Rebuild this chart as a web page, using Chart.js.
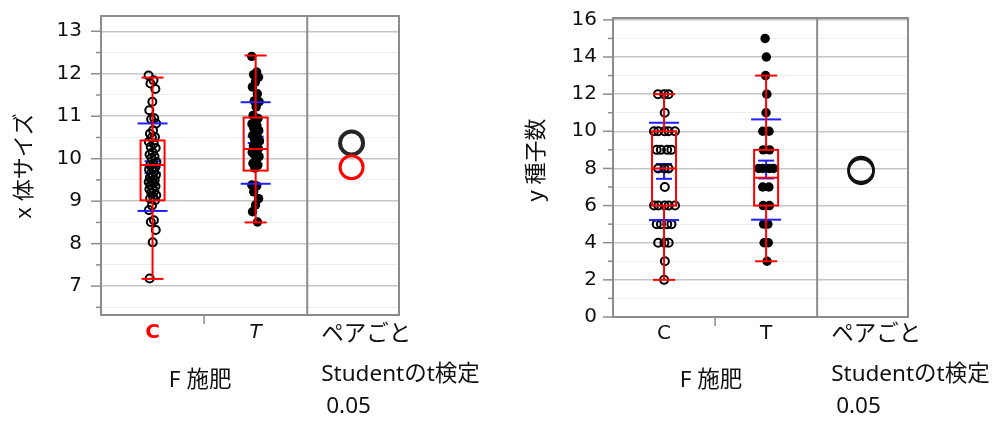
<!DOCTYPE html>
<html><head><meta charset="utf-8">
<script src="https://cdn.jsdelivr.net/npm/chart.js@4.4.1/dist/chart.umd.min.js"></script>
<style>
html,body{margin:0;padding:0;background:#fff;}
#wrap{position:relative;width:1002px;height:421px;overflow:hidden;}
canvas{position:absolute;top:0;}
#c1{left:0;}
#c2{left:500px;}
</style></head><body>
<div id="wrap"><canvas id="c1" width="500" height="421"></canvas><canvas id="c2" width="502" height="421"></canvas></div>
<script>
// ---------- data ----------
const categories = ["C", "T"];
const xAxisTitle = "F 施肥";
const pairLabels = ["ペアごと", "Studentのt検定", "0.05"];

const leftTitle = "x 体サイズ";
const leftYTicks = ["7", "8", "9", "10", "11", "12", "13"];
const leftC = [11.96, 11.85, 11.77, 11.64, 11.34, 11.14, 10.95, 10.93, 10.83, 10.67, 10.59, 10.51, 10.50, 10.40, 10.36, 10.28, 10.25, 10.15, 10.10, 10.05, 10.02, 9.92, 9.88, 9.85, 9.80, 9.78, 9.74, 9.70, 9.65, 9.62, 9.58, 9.55, 9.50, 9.48, 9.45, 9.42, 9.38, 9.35, 9.30, 9.28, 9.24, 9.20, 9.14, 9.10, 9.06, 9.02, 8.90, 8.79, 8.55, 8.51, 8.32, 8.03, 7.18];
const leftT = [12.41, 12.04, 11.98, 11.92, 11.81, 11.69, 11.53, 11.36, 11.34, 11.22, 11.02, 10.95, 10.88, 10.82, 10.78, 10.72, 10.66, 10.62, 10.55, 10.50, 10.45, 10.42, 10.36, 10.30, 10.24, 10.20, 10.15, 10.12, 10.10, 10.05, 9.96, 9.89, 9.85, 9.78, 9.38, 9.36, 9.22, 9.06, 8.91, 8.75, 8.51];
const leftQ1 = [9.02, 9.72];
const leftMedian = [9.85, 10.23];
const leftQ3 = [10.43, 10.97];
const leftWhiskerLow = [7.17, 8.50];
const leftWhiskerHigh = [11.91, 12.43];
const leftMean = [9.80, 10.37];
const leftSD = [1.03, 0.96];
const leftSE = [0.14, 0.15];

const rightTitle = "y 種子数";
const rightYTicks = ["0", "2", "4", "6", "8", "10", "12", "14", "16"];
const rightC = [12, 12, 12, 11, 10, 10, 10, 10, 10, 9, 9, 9, 9, 8, 8, 8, 7, 6, 6, 6, 6, 6, 5, 5, 5, 5, 4, 4, 4, 3, 2];
const rightT = [15, 14, 13, 12, 11, 10, 10, 9, 9, 8, 8, 8, 8, 7, 7, 6, 6, 5, 5, 4, 4, 3];
const rightQ1 = [6, 6];
const rightMedian = [8, 7.5];
const rightQ3 = [10, 9];
const rightWhiskerLow = [2, 3];
const rightWhiskerHigh = [12, 13];
const rightMean = [7.84, 7.94];
const rightSD = [2.62, 2.70];
const rightSE = [0.40, 0.48];

// ---------- drawing ----------
const FONT = '"Noto Sans", "Noto Sans CJK JP", sans-serif';
const TICKFONT = '"DejaVu Sans", "Noto Sans", sans-serif';
const RED = '#ff0000', BLUE = '#1f1fff', FRAME = '#8c8c8c';
const X_MAX = 2.89, PAIR_X = 2.43;
Chart.defaults.font.family = FONT;
Chart.defaults.color = '#111111';

function jitterPx(vals, integer) {
  const counts = {}, seen = {};
  vals.forEach(v => { counts[v] = (counts[v] || 0) + 1; });
  return vals.map((v, i) => {
    const h = ((i * 0.6180339887) % 1) - 0.5;
    if (integer) {
      const k = counts[v];
      const r = (seen[v] = (seen[v] === undefined ? 0 : seen[v] + 1));
      return (r - (k - 1) / 2) * 5 + h * 2;
    }
    return h * 8;
  });
}

function buildChart(id, o) {
  const xPx = (o.right - o.left) / X_MAX;
  const majors = o.yTicks.map(Number);
  const step = majors[1] - majors[0];
  let yVals = [];
  majors.forEach(v => yVals.push(v - step / 2, v));
  yVals.push(majors[majors.length - 1] + step / 2);
  yVals = yVals.filter(v => v >= o.yMin - 1e-9 && v <= o.yMax + 1e-9);
  const majorIdx = v => majors.findIndex(m => Math.abs(m - v) < 1e-6);

  const pts = (vals, ci) => {
    const offs = jitterPx(vals, o.integer);
    return vals.map((v, i) => ({ x: ci + 0.5 + offs[i] / xPx, y: v }));
  };

  const datasets = [
    { data: pts(o.valsC, 0), pointRadius: 4, pointBorderWidth: 2, pointBorderColor: '#000', pointBackgroundColor: 'rgba(0,0,0,0)' },
    { data: pts(o.valsT, 1), pointRadius: 4.7, pointBorderWidth: 0, pointBackgroundColor: '#000', pointBorderColor: '#000' }
  ];
  o.mean.forEach((m, i) => {
    datasets.push({ data: [{ x: PAIR_X, y: m }], pointRadius: o.pairR, pointBorderWidth: o.pairW[i], pointBorderColor: o.pairColors[i], pointBackgroundColor: 'rgba(0,0,0,0)' });
  });

  const hl = (ctx, cx, py, half) => { ctx.beginPath(); ctx.moveTo(cx - half, py); ctx.lineTo(cx + half, py); ctx.stroke(); };
  const vl = (ctx, px, y1, y2) => { ctx.beginPath(); ctx.moveTo(px, y1); ctx.lineTo(px, y2); ctx.stroke(); };

  const plugin = {
    id: 'jmp' + id,
    beforeDatasetsDraw(chart) {
      const { ctx, scales: { x, y } } = chart;
      ctx.save();
      ctx.strokeStyle = BLUE; ctx.lineWidth = 2;
      o.mean.forEach((m, i) => {
        const cx = x.getPixelForValue(i + 0.5);
        const t = y.getPixelForValue(m + o.se[i]), b = y.getPixelForValue(m - o.se[i]);
        vl(ctx, cx, t, b);
        hl(ctx, cx, t, 8); hl(ctx, cx, b, 8); hl(ctx, cx, y.getPixelForValue(m), 8);
      });
      ctx.restore();
    },
    afterDatasetsDraw(chart) {
      const { ctx, scales: { x, y } } = chart;
      ctx.save();
      ctx.strokeStyle = BLUE; ctx.lineWidth = 2;
      o.mean.forEach((m, i) => {
        const cx = x.getPixelForValue(i + 0.5);
        hl(ctx, cx, y.getPixelForValue(m + o.sd[i]), 15);
        hl(ctx, cx, y.getPixelForValue(m - o.sd[i]), 15);
      });
      ctx.strokeStyle = RED; ctx.lineWidth = 2;
      o.q1.forEach((q, i) => {
        const cx = x.getPixelForValue(i + 0.5);
        const pq1 = y.getPixelForValue(q), pq3 = y.getPixelForValue(o.q3[i]);
        const pm = y.getPixelForValue(o.median[i]);
        const pl = y.getPixelForValue(o.wLow[i]), ph = y.getPixelForValue(o.wHigh[i]);
        vl(ctx, cx, ph, pq3); vl(ctx, cx, pq1, pl);
        hl(ctx, cx, ph, 11); hl(ctx, cx, pl, 11);
        ctx.strokeRect(cx - 12, pq3, 24, pq1 - pq3);
        hl(ctx, cx, pm, 12);
      });
      ctx.restore();
    },
    afterDraw(chart) {
      const { ctx, chartArea: a, scales: { x, y } } = chart;
      ctx.save();
      ctx.strokeStyle = FRAME; ctx.lineWidth = 2;
      ctx.strokeRect(a.left, a.top, a.right - a.left, a.bottom - a.top);
      const sep = x.getPixelForValue(categories.length);
      vl(ctx, sep, a.top, a.bottom);
      ctx.lineWidth = 1.5;
      yVals.forEach(v => {
        const py = y.getPixelForValue(v);
        const len = majorIdx(v) >= 0 ? 10 : 5;
        ctx.beginPath(); ctx.moveTo(a.left - len, py); ctx.lineTo(a.left, py); ctx.stroke();
      });
      const div = x.getPixelForValue(1);
      vl(ctx, div, a.bottom, a.bottom + 9);
      ctx.fillStyle = '#111111';
      ctx.textBaseline = 'middle';
      ctx.font = '22.5px ' + FONT;
      ctx.textAlign = 'left';
      ctx.fillText(pairLabels[0], sep + 14, 335);
      ctx.fillText(pairLabels[1], sep + 14, 375);
      ctx.fillText(pairLabels[2], sep + 19, 407);
      ctx.textAlign = 'center';
      ctx.fillText(xAxisTitle, x.getPixelForValue(categories.length / 2) - 4, 381);
      ctx.font = '22px ' + FONT;
      ctx.translate(o.titleX, o.titleY);
      ctx.rotate(-Math.PI / 2);
      ctx.fillText(o.title, 0, 0);
      ctx.restore();
    }
  };

  return new Chart(document.getElementById(id), {
    type: 'scatter',
    data: { datasets },
    plugins: [plugin],
    options: {
      responsive: false, animation: false, events: [],
      layout: { padding: { left: 0, top: o.top, right: o.canvasW - o.right, bottom: 0 } },
      plugins: { legend: { display: false }, tooltip: { enabled: false } },
      scales: {
        x: {
          type: 'linear', min: 0, max: X_MAX,
          afterFit: s => { s.height = 421 - o.bottom; s.paddingLeft = 0; s.paddingRight = 0; },
          afterBuildTicks: s => { s.ticks = categories.map((c, i) => ({ value: i + 0.5 })); },
          grid: { display: false, drawTicks: false }, border: { display: false },
          ticks: {
            autoSkip: false, maxRotation: 0, padding: o.xPad,
            callback: (v, i) => categories[i],
            color: c => (o.highlightC && c.index === 0) ? RED : '#111111',
            font: c => o.highlightC ? (c.index === 0 ? { family: TICKFONT, size: 20, weight: 'bold' } : { family: TICKFONT, size: 20, style: 'italic' }) : { family: TICKFONT, size: 20 }
          }
        },
        y: {
          type: 'linear', min: o.yMin, max: o.yMax,
          afterFit: s => { s.width = o.left; s.paddingTop = 0; s.paddingBottom = 0; },
          afterBuildTicks: s => { s.ticks = yVals.map(v => ({ value: v })); },
          grid: {
            drawTicks: false,
            color: c => (c.tick && majorIdx(c.tick.value) >= 0) ? '#c6c6c6' : '#eeeeee',
            lineWidth: c => (c.tick && majorIdx(c.tick.value) >= 0) ? 1.5 : 1
          },
          border: { display: false },
          ticks: {
            autoSkip: false, padding: o.yPad, font: { family: TICKFONT, size: 20 }, color: '#111111',
            callback: v => { const k = majorIdx(v); return k >= 0 ? o.yTicks[k] : ''; }
          }
        }
      }
    }
  });
}

buildChart('c1', {
  canvasW: 500, left: 101, right: 399, top: 16, bottom: 315,
  yMin: 6.32, yMax: 13.36, yTicks: leftYTicks, yPad: 19, xPad: 6,
  valsC: leftC, valsT: leftT, integer: false,
  q1: leftQ1, median: leftMedian, q3: leftQ3, wLow: leftWhiskerLow, wHigh: leftWhiskerHigh,
  mean: leftMean, sd: leftSD, se: leftSE,
  pairR: 11.5, pairW: [3, 4], pairColors: [RED, '#262626'],
  highlightC: true, title: leftTitle, titleX: 25, titleY: 166
});

buildChart('c2', {
  canvasW: 502, left: 113, right: 408, top: 18, bottom: 317,
  yMin: 0, yMax: 16.1, yTicks: rightYTicks, yPad: 16, xPad: 5,
  valsC: rightC, valsT: rightT, integer: true,
  q1: rightQ1, median: rightMedian, q3: rightQ3, wLow: rightWhiskerLow, wHigh: rightWhiskerHigh,
  mean: rightMean, sd: rightSD, se: rightSE,
  pairR: 12.5, pairW: [2.5, 2.5], pairColors: ['#111111', '#111111'],
  highlightC: false, title: rightTitle, titleX: 37, titleY: 160
});
</script>
</body></html>
